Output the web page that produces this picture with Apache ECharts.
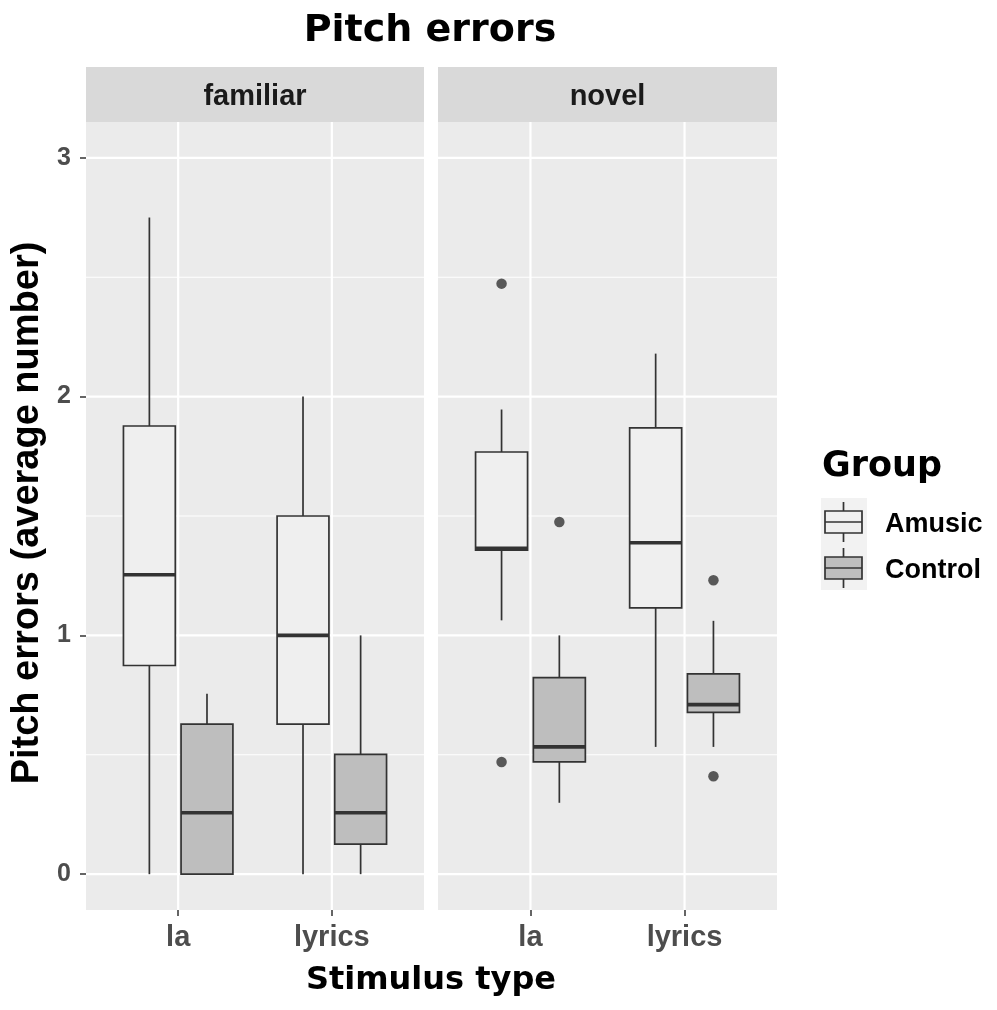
<!DOCTYPE html>
<html><head><meta charset="utf-8">
<script src="https://cdn.jsdelivr.net/npm/echarts@6/dist/echarts.min.js"></script>
<style>html,body{margin:0;padding:0;background:#fff}#c{width:997px;height:1010px}</style>
</head><body><div id="c"></div>
<script>
// ---- data ----
const panels = ['familiar', 'novel'];
const stimuli = ['la', 'lyrics'];
const groups = ['Amusic', 'Control'];
const yTicks = [0, 1, 2, 3];
const yMinor = [0.5, 1.5, 2.5];
// five-number summaries [min, q1, median, q3, max], one per stimulus (la, lyrics)
const familiarAmusic = [[0, 0.874, 1.254, 1.877, 2.75], [0, 0.628, 1.0, 1.50, 2.0]];
const familiarControl = [[0, 0, 0.257, 0.628, 0.756], [0, 0.126, 0.257, 0.502, 1.0]];
const novelAmusic = [[1.063, 1.357, 1.365, 1.768, 1.946], [0.533, 1.115, 1.388, 1.869, 2.18]];
const novelControl = [[0.299, 0.470, 0.533, 0.823, 1.0], [0.533, 0.678, 0.710, 0.839, 1.061]];
// outliers [stimulusIndex, value]
const familiarAmusicOut = [];
const familiarControlOut = [];
const novelAmusicOut = [[0, 2.473], [0, 0.470]];
const novelControlOut = [[0, 1.475], [1, 1.231], [1, 0.41]];

// ---- build ----
const boxData = [[familiarAmusic, familiarControl], [novelAmusic, novelControl]];
const outData = [[familiarAmusicOut, familiarControlOut], [novelAmusicOut, novelControlOut]];
const fills = ['#EFEFEF', '#BEBEBE'];
const dodge = [-0.1875, 0.1875];
const halfW = 0.16875;
const X0 = 0.4, X1 = 2.6, Y0 = -0.15, Y1 = 3.15;
const INK = '#333333';

function makeBoxRenderer(fill) {
  return function (params, api) {
    const x = api.value(0);
    const pMin = api.coord([x, api.value(1)]);
    const pQ1 = api.coord([x, api.value(2)]);
    const pMed = api.coord([x, api.value(3)]);
    const pQ3 = api.coord([x, api.value(4)]);
    const pMax = api.coord([x, api.value(5)]);
    const l = api.coord([x - halfW, 0])[0];
    const r = api.coord([x + halfW, 0])[0];
    const ls = {stroke: INK, lineWidth: 1.7};
    return {type: 'group', children: [
      {type: 'line', shape: {x1: pMax[0], y1: pMax[1], x2: pQ3[0], y2: pQ3[1]}, style: ls},
      {type: 'line', shape: {x1: pQ1[0], y1: pQ1[1], x2: pMin[0], y2: pMin[1]}, style: ls},
      {type: 'rect', shape: {x: l, y: pQ3[1], width: r - l, height: pQ1[1] - pQ3[1]},
        style: {fill: fill, stroke: INK, lineWidth: 1.7}},
      {type: 'line', shape: {x1: l, y1: pMed[1], x2: r, y2: pMed[1]}, style: {stroke: INK, lineWidth: 3.6}}
    ]};
  };
}

function gridRenderer(params, api) {
  const kind = api.value(0), v = api.value(1);
  let a, b;
  if (kind === 2) { a = api.coord([v, Y0]); b = api.coord([v, Y1]); }
  else { a = api.coord([X0, v]); b = api.coord([X1, v]); }
  return {type: 'line', shape: {x1: a[0], y1: a[1], x2: b[0], y2: b[1]},
    style: {stroke: '#FFFFFF', lineWidth: kind === 1 ? 1.1 : 2.2}};
}

const gridLineData = [].concat(
  yMinor.map(v => [1, v]),
  yTicks.map(v => [0, v]),
  stimuli.map((s, i) => [2, i + 1])
);

const grids = [
  {left: 86, top: 122, width: 338, height: 788, show: true, backgroundColor: '#EBEBEB', borderWidth: 0},
  {left: 438, top: 122, width: 339, height: 788, show: true, backgroundColor: '#EBEBEB', borderWidth: 0}
];

const xAxes = panels.map((p, gi) => ({
  type: 'value', gridIndex: gi, min: X0, max: X1, position: 'bottom',
  axisLine: {show: false, onZero: false},
  splitLine: {show: false},
  axisTick: {show: true, customValues: [1, 2], length: 6, inside: false, lineStyle: {color: INK, width: 1.5}},
  axisLabel: {customValues: [1, 2], formatter: v => stimuli[Math.round(v) - 1],
    fontFamily: 'Liberation Sans', fontWeight: 'bold', fontSize: 29, color: '#4D4D4D', margin: 13}
}));

const yAxes = panels.map((p, gi) => ({
  type: 'value', gridIndex: gi, min: Y0, max: Y1, position: 'left',
  axisLine: {show: false, onZero: false},
  splitLine: {show: false},
  axisTick: {show: gi === 0, customValues: yTicks, length: 6, lineStyle: {color: INK, width: 1.5}},
  axisLabel: {show: gi === 0, customValues: yTicks, formatter: v => String(Math.round(v)),
    fontFamily: 'Liberation Sans', fontWeight: 'bold', fontSize: 25, color: '#4D4D4D', margin: 15}
}));

const series = [];
panels.forEach((p, gi) => {
  series.push({type: 'custom', xAxisIndex: gi, yAxisIndex: gi, z: 1, silent: true,
    renderItem: gridRenderer, data: gridLineData});
});
panels.forEach((p, gi) => {
  groups.forEach((g, k) => {
    series.push({type: 'custom', name: g, xAxisIndex: gi, yAxisIndex: gi, z: 3, silent: true,
      renderItem: makeBoxRenderer(fills[k]),
      data: boxData[gi][k].map((s, i) => [i + 1 + dodge[k]].concat(s))});
    series.push({type: 'scatter', xAxisIndex: gi, yAxisIndex: gi, z: 4, silent: true,
      symbol: 'circle', symbolSize: 10.5, itemStyle: {color: INK},
      data: outData[gi][k].map(o => [o[0] + 1 + dodge[k], o[1]])});
  });
});

// ---- graphic elements: titles, strips, legend ----
const graphic = [];
const stripX = [[86, 338], [438, 339]];
panels.forEach((p, gi) => {
  graphic.push({type: 'rect', left: stripX[gi][0], top: 67, shape: {width: stripX[gi][1], height: 55},
    style: {fill: '#D9D9D9'}, z: 0});
  graphic.push({type: 'text', x: stripX[gi][0] + stripX[gi][1] / 2, y: 97,
    style: {text: p, fontFamily: 'Liberation Sans', fontWeight: 'bold', fontSize: 29, fill: '#1A1A1A',
      align: 'center', verticalAlign: 'middle'}});
});
graphic.push({type: 'text', x: 430, y: 31,
  style: {text: 'Pitch errors', fontFamily: 'DejaVu Sans', fontWeight: 'bold', fontSize: 38, fill: '#000',
    align: 'center', verticalAlign: 'middle'}});
graphic.push({type: 'text', x: 431, y: 981,
  style: {text: 'Stimulus type', fontFamily: 'DejaVu Sans', fontWeight: 'bold', fontSize: 32, fill: '#000',
    align: 'center', verticalAlign: 'middle'}});
graphic.push({type: 'text', x: 28, y: 513, rotation: Math.PI / 2,
  style: {text: 'Pitch errors (average number)', fontFamily: 'Liberation Sans', fontWeight: 'bold', fontSize: 38,
    fill: '#000', align: 'center', verticalAlign: 'middle'}});
// legend
graphic.push({type: 'text', x: 822, y: 467,
  style: {text: 'Group', fontFamily: 'DejaVu Sans', fontWeight: 'bold', fontSize: 35, fill: '#000',
    align: 'left', verticalAlign: 'middle'}});
graphic.push({type: 'rect', shape: {x: 821, y: 498, width: 46, height: 92}, style: {fill: '#F2F2F2'}});
groups.forEach((g, k) => {
  const cy = 522 + k * 46;
  const ls = {stroke: INK, lineWidth: 1.7};
  graphic.push({type: 'line', shape: {x1: 843.5, y1: cy - 20, x2: 843.5, y2: cy - 11}, style: ls});
  graphic.push({type: 'line', shape: {x1: 843.5, y1: cy + 11, x2: 843.5, y2: cy + 20}, style: ls});
  graphic.push({type: 'rect', shape: {x: 825, y: cy - 11, width: 37, height: 22},
    style: {fill: fills[k], stroke: INK, lineWidth: 1.7}});
  graphic.push({type: 'line', shape: {x1: 825, y1: cy, x2: 862, y2: cy}, style: {stroke: INK, lineWidth: 1.7}});
  graphic.push({type: 'text', x: 885, y: cy + 3,
    style: {text: g, fontFamily: 'Liberation Sans', fontWeight: 'bold', fontSize: 27, fill: '#000',
      align: 'left', verticalAlign: 'middle'}});
});

const chart = echarts.init(document.getElementById('c'), null, {renderer: 'canvas'});
chart.setOption({
  animation: false,
  backgroundColor: '#FFFFFF',
  grid: grids,
  xAxis: xAxes,
  yAxis: yAxes,
  series: series,
  graphic: graphic
});
</script>
</body></html>
